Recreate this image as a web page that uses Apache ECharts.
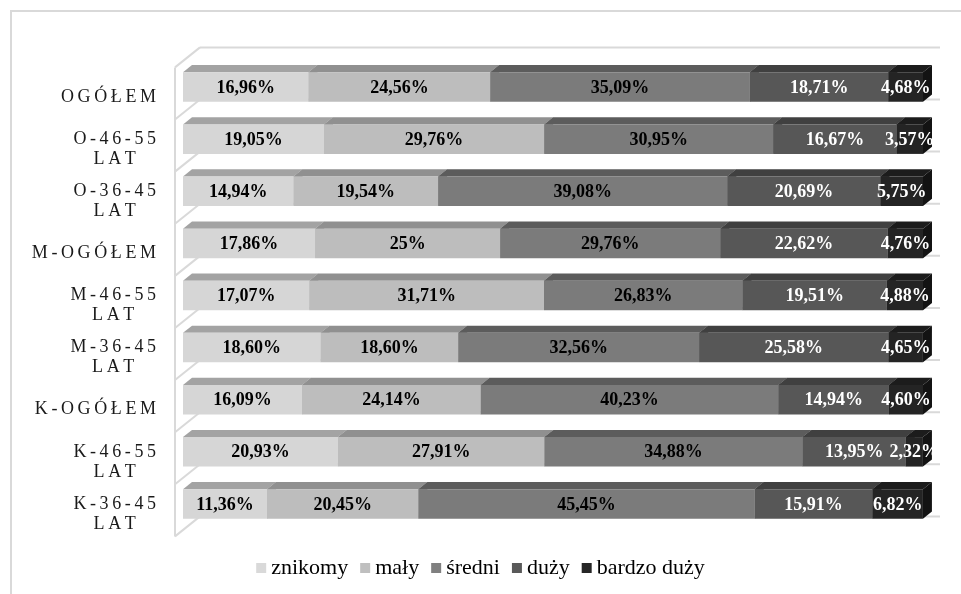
<!DOCTYPE html>
<html>
<head>
<meta charset="utf-8">
<script src="https://cdn.jsdelivr.net/npm/echarts@6/dist/echarts.min.js"></script>
<style>
  html, body { margin: 0; padding: 0; background: #ffffff; }
  #chart { width: 961px; height: 594px; }
</style>
</head>
<body>
<div id="chart"></div>
<script>
// Rows, top to bottom
const categories = ['OGÓŁEM', 'O-46-55 LAT', 'O-36-45 LAT', 'M-OGÓŁEM', 'M-46-55 LAT', 'M-36-45 LAT', 'K-OGÓŁEM', 'K-46-55 LAT', 'K-36-45 LAT'];
const seriesNames = ['znikomy', 'mały', 'średni', 'duży', 'bardzo duży'];

// Percent shares per row
const znikomy    = [16.96, 19.05, 14.94, 17.86, 17.07, 18.60, 16.09, 20.93, 11.36];
const maly       = [24.56, 29.76, 19.54, 25,    31.71, 18.60, 24.14, 27.91, 20.45];
const sredni     = [35.09, 30.95, 39.08, 29.76, 26.83, 32.56, 40.23, 34.88, 45.45];
const duzy       = [18.71, 16.67, 20.69, 22.62, 19.51, 25.58, 14.94, 13.95, 15.91];
const bardzoDuzy = [4.68,  3.57,  5.75,  4.76,  4.88,  4.65,  4.60,  2.32,  6.82];

const seriesValues = [znikomy, maly, sredni, duzy, bardzoDuzy];

// Face shades: front, top, side, label colour
const shades = [
  { front: '#d6d6d6', top: '#a3a3a3', side: '#b5b5b5', label: '#000000' },
  { front: '#bdbdbd', top: '#909090', side: '#9a9a9a', label: '#000000' },
  { front: '#7b7b7b', top: '#5c5c5c', side: '#606060', label: '#000000' },
  { front: '#575757', top: '#404040', side: '#3a3a3a', label: '#ffffff' },
  { front: '#242424', top: '#1c1c1c', side: '#131313', label: '#ffffff' }
];
const legendColors = ['#d9d9d9', '#bfbfbf', '#808080', '#595959', '#262626'];

const SERIF = '"Liberation Serif", "DejaVu Serif", serif';

// Pseudo-3D geometry (pixels)
const BAR_DX = 9, BAR_DY = 7.2;      // bar depth
const WALL_FRONT = [-8, 6.4];         // wall front plane relative to bar face
const WALL_BACK = [17, -13.6];        // wall back plane relative to bar face
const BAR_RATIO = 0.566;              // bar thickness / band
const WALL_COLOR = '#d9d9d9';

// letter-spaced axis labels
const SP = '\u2009';
function spaced(s) { return s.split('').join(SP); }
function fmtPct(v) {
  return (Number.isInteger(v) ? String(v) : v.toFixed(2).replace('.', ',')) + '%';
}

// Stack starts for every row
const stacked = seriesValues.map(() => []);
for (let r = 0; r < categories.length; r++) {
  let acc = 0;
  seriesValues.forEach((vals, s) => {
    stacked[s].push([acc, acc + vals[r], r, vals[r]]);
    acc += vals[r];
  });
}

function barRenderer(s) {
  const c = shades[s];
  return function (params, api) {
    const start = api.value(0), end = api.value(1), cat = api.value(2), val = api.value(3);
    const a = api.coord([start, cat]);
    const b = api.coord([end, cat]);
    const band = api.size([0, 1])[1];
    const h = band * BAR_RATIO;
    const x0 = a[0], x1 = b[0];
    const y0 = a[1] - h / 2;
    return {
      type: 'group',
      children: [
        { type: 'polygon', shape: { points: [[x0, y0], [x0 + BAR_DX, y0 - BAR_DY], [x1 + BAR_DX, y0 - BAR_DY], [x1, y0]] },
          style: { fill: c.top } },
        { type: 'polygon', shape: { points: [[x1, y0], [x1 + BAR_DX, y0 - BAR_DY], [x1 + BAR_DX, y0 + h - BAR_DY], [x1, y0 + h]] },
          style: { fill: c.side } },
        { type: 'rect', shape: { x: x0, y: y0, width: x1 - x0, height: h },
          style: { fill: c.front } },
        { type: 'text', z2: 100,
          style: { text: fmtPct(val), x: (x0 + x1) / 2, y: a[1] + 1, align: 'center', verticalAlign: 'middle',
                   font: 'bold 18px ' + SERIF, fill: c.label } }
      ]
    };
  };
}

// Side wall and back-wall lines at each row boundary
function frameRenderer(params, api) {
  const n = categories.length;
  const band = api.size([0, 1])[1];
  const top = api.coord([0, 0])[1] - band / 2;
  const xL = api.coord([0, 0])[0];
  const xR = api.coord([100, 0])[0];
  const ls = { stroke: WALL_COLOR, lineWidth: 2, fill: null };
  const children = [];
  const fx = xL + WALL_FRONT[0];
  const bx = xL + WALL_BACK[0];
  children.push({ type: 'line', shape: { x1: fx, y1: top + WALL_FRONT[1], x2: fx, y2: top + n * band + WALL_FRONT[1] }, style: ls });
  for (let k = 0; k <= n; k++) {
    const yb = top + k * band;
    children.push({ type: 'line', shape: { x1: fx, y1: yb + WALL_FRONT[1], x2: bx, y2: yb + WALL_BACK[1] }, style: ls });
    children.push({ type: 'line', shape: { x1: bx, y1: yb + WALL_BACK[1], x2: xR + WALL_BACK[0], y2: yb + WALL_BACK[1] }, style: ls });
  }
  return { type: 'group', children };
}

const chart = echarts.init(document.getElementById('chart'), null, { renderer: 'canvas' });

const series = [{
  type: 'custom',
  name: '__frame',
  coordinateSystem: 'cartesian2d',
  renderItem: frameRenderer,
  data: [[0, 0]],
  encode: { x: 0, y: 1 },
  silent: true,
  z: 1
}];
seriesNames.forEach((name, s) => {
  series.push({
    type: 'custom',
    name: name,
    coordinateSystem: 'cartesian2d',
    renderItem: barRenderer(s),
    itemStyle: { color: legendColors[s] },
    data: stacked[s],
    encode: { x: [0, 1], y: 2 },
    z: 2
  });
});

chart.setOption({
  animation: false,
  backgroundColor: '#ffffff',
  textStyle: { fontFamily: 'serif' },
  graphic: [{
    type: 'rect', silent: true, z: 0,
    shape: { x: 11, y: 11, width: 1000, height: 700 },
    style: { fill: null, stroke: '#d9d9d9', lineWidth: 2 }
  }],
  grid: { left: 183, right: 38, top: 61, bottom: 64, containLabel: false },
  xAxis: { type: 'value', min: 0, max: 100, show: false },
  yAxis: {
    type: 'category',
    inverse: true,
    data: categories,
    axisLine: { show: false },
    axisTick: { show: false },
    splitLine: { show: false },
    axisLabel: {
      margin: 27,
      padding: [20, 0, 0, 0],
      formatter: function (v) {
        return v.split(' ').map(part => '{a|' + spaced(part) + '}').join('\n');
      },
      rich: {
        a: { align: 'center', fontFamily: SERIF, fontSize: 18, lineHeight: 20, color: '#1a1a1a' }
      }
    }
  },
  legend: {
    show: true,
    data: seriesNames,
    top: 552,
    left: 'center',
    icon: 'rect',
    itemWidth: 10,
    itemHeight: 10,
    itemGap: 12,
    textStyle: { fontFamily: 'Liberation Serif', fontSize: 22, fontWeight: 'normal', color: '#000000' }
  },
  series: series
});
</script>
</body>
</html>
